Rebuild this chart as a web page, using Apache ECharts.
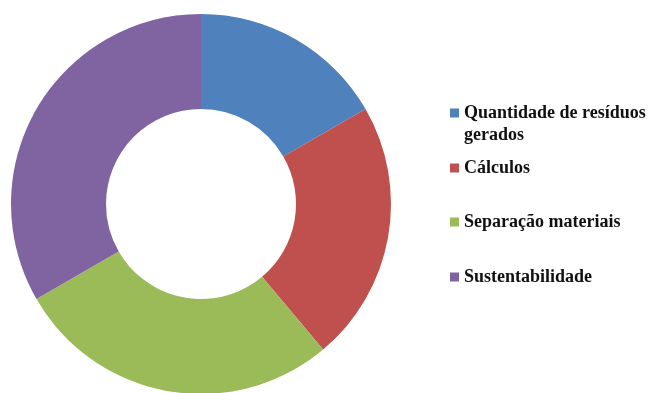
<!DOCTYPE html>
<html><head><meta charset="utf-8">
<script src="https://cdn.jsdelivr.net/npm/echarts@6/dist/echarts.min.js"></script>
<style>html,body{margin:0;padding:0;background:#fff}#c{width:648px;height:393px}</style>
</head><body><div id="c"></div>
<script>
const categories = ['Quantidade de resíduos\ngerados', 'Cálculos', 'Separação materiais', 'Sustentabilidade'];
const values = [6, 8, 10, 12];
const colors = ['#4F81BD', '#C0504D', '#9BBB59', '#8064A2'];

const LH = 22;
const centers = [113, 168, 222, 277];
const textStyle = {fontFamily: 'Liberation Serif', fontWeight: 'bold', fontSize: 18, color: '#111111', lineHeight: LH};
const legends = categories.map((c, i) => {
  const lines = c.split('\n').length;
  const nLines = lines > 1 ? lines * 2 - 1 : 1;
  const h = nLines * LH;
  return {
    data: [c], left: 450, top: centers[i] - h / 2, orient: 'vertical', padding: 0,
    itemWidth: 9, itemHeight: 9, icon: 'rect', selectedMode: false,
    formatter: lines > 1 ? (n => '\u00a0\n' + n) : undefined,
    textStyle: textStyle
  };
});

const chart = echarts.init(document.getElementById('c'), null, {renderer: 'canvas'});
chart.setOption({
  animation: false,
  color: colors,
  legend: legends,
  series: [{
    type: 'pie', center: [201, 204], radius: [95, 190], startAngle: 90, clockwise: true,
    label: {show: false}, labelLine: {show: false}, silent: true,
    itemStyle: {borderWidth: 0},
    data: categories.map((c, i) => ({name: c, value: values[i]}))
  }]
});
</script></body></html>
